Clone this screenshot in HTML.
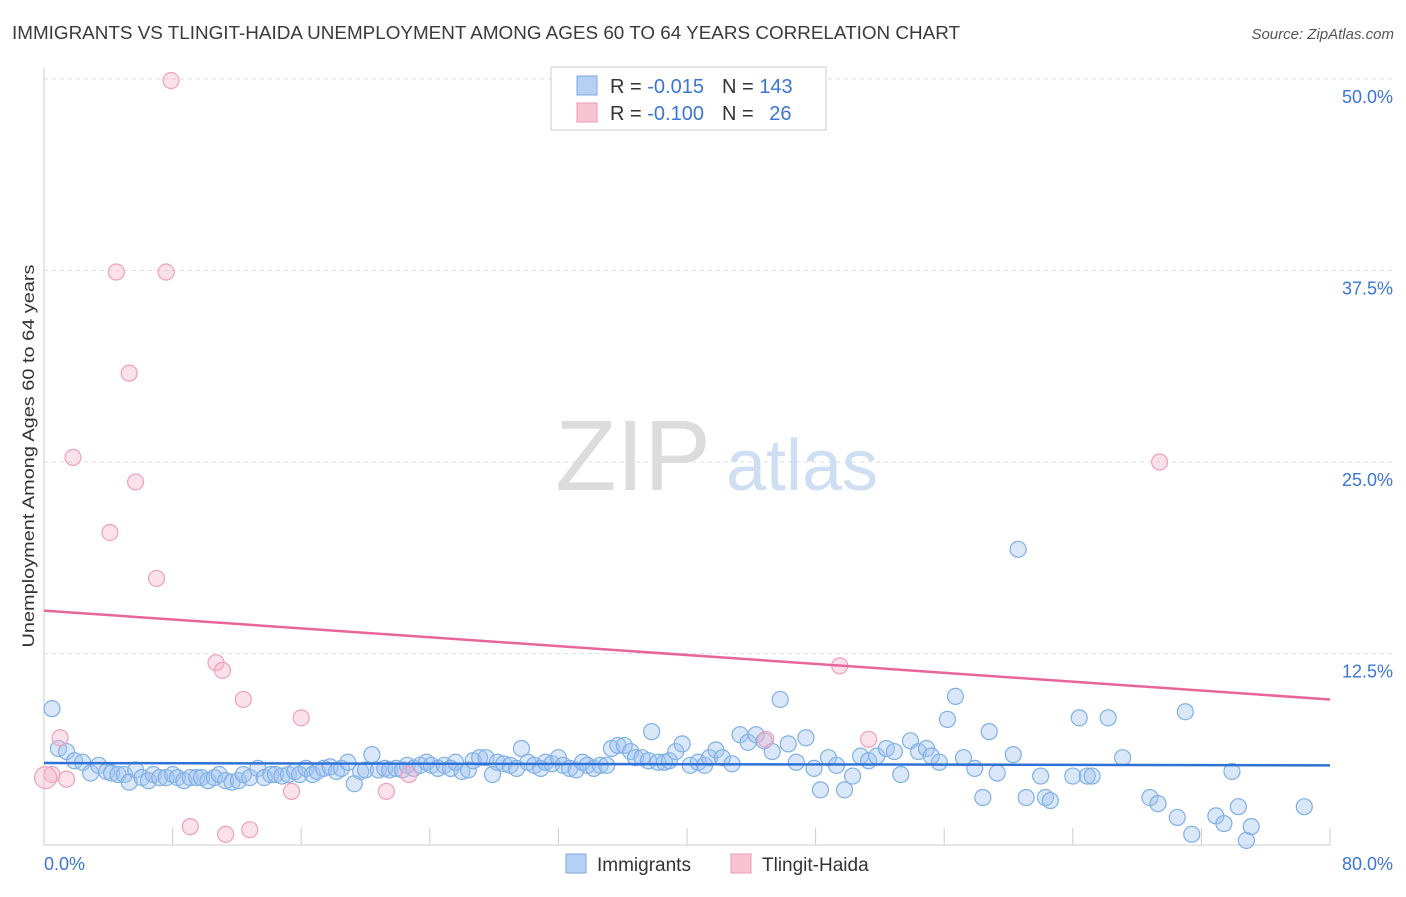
<!DOCTYPE html>
<html><head><meta charset="utf-8"><style>
body{margin:0;background:#fff;font-family:"Liberation Sans",sans-serif;}
svg text{font-family:"Liberation Sans",sans-serif;}
</style></head><body>
<svg id="chart" width="1406" height="892" viewBox="0 0 1406 892" xmlns="http://www.w3.org/2000/svg">
<text x="12" y="39" font-size="18" fill="#3a3a3a" textLength="948" lengthAdjust="spacingAndGlyphs">IMMIGRANTS VS TLINGIT-HAIDA UNEMPLOYMENT AMONG AGES 60 TO 64 YEARS CORRELATION CHART</text>
<text x="1394" y="39" font-size="15" fill="#555" text-anchor="end" font-style="italic">Source: ZipAtlas.com</text>
<g id="grid"></g>
<g>
<text x="633" y="490" font-size="100" fill="#dcdcdc" text-anchor="middle" font-family="Liberation Serif, serif">ZIP</text>
<text x="802" y="490" font-size="72" fill="#cfdff3" text-anchor="middle">atlas</text>
</g>
<g id="axes"></g>
<g id="pts"></g>
<g id="trend"></g>
<text transform="translate(34,456) rotate(-90)" font-size="17" fill="#333" text-anchor="middle" textLength="383" lengthAdjust="spacingAndGlyphs">Unemployment Among Ages 60 to 64 years</text>
<g>
<rect x="551" y="67" width="275" height="63" fill="#fff" stroke="#ccc"/>
<rect x="577" y="76" width="20" height="19" fill="#b4d0f4" stroke="#7aa8e0"/>
<rect x="577" y="103" width="20" height="19" fill="#f8c4d4" stroke="#e89ab4"/>
<text x="610" y="93" font-size="20" fill="#333">R = <tspan fill="#3b76d4">-0.015</tspan><tspan dx="18">N = </tspan><tspan fill="#3b76d4">143</tspan></text>
<text x="610" y="120" font-size="20" fill="#333">R = <tspan fill="#3b76d4">-0.100</tspan><tspan dx="18">N = </tspan><tspan fill="#3b76d4" dx="10">26</tspan></text>
</g>
<g>
<rect x="566" y="854" width="20" height="19" fill="#b4d0f4" stroke="#7aa8e0"/>
<text x="597" y="871" font-size="19" fill="#333">Immigrants</text>
<rect x="731" y="854" width="20" height="19" fill="#f8c4d4" stroke="#e89ab4"/>
<text x="762" y="871" font-size="19" fill="#333">Tlingit-Haida</text>
</g>
</svg>
<script>
const xTicks=[0,8,16,24,32,40,48,56,64,72,80];
const yTicks=[12.5,25,37.5,50];
const yTickLabels=["12.5%","25.0%","37.5%","50.0%"];
const blueX=[0.5,0.9,1.4,1.9,2.4,2.9,3.4,3.9,4.2,4.6,5.0,5.3,5.7,6.1,6.5,6.8,7.2,7.6,8.0,8.3,8.7,9.1,9.5,9.8,10.2,10.6,10.9,11.3,11.7,12.1,12.4,12.8,13.3,13.7,14.1,14.4,14.8,15.2,15.6,15.9,16.3,16.7,17.0,17.4,17.8,18.2,18.5,18.9,19.3,19.7,20.0,20.4,20.8,21.2,21.5,21.9,22.3,22.6,23.0,23.4,23.8,24.1,24.5,24.9,25.3,25.6,26.0,26.4,26.7,27.1,27.5,27.9,28.2,28.6,29.0,29.4,29.7,30.1,30.5,30.9,31.2,31.6,32.0,32.3,32.7,33.1,33.5,33.8,34.2,34.6,35.0,35.3,35.7,36.1,36.5,36.8,37.2,37.6,37.8,38.2,38.6,38.9,39.3,39.7,40.2,40.7,41.1,41.4,41.8,42.2,42.8,43.3,43.8,44.3,44.8,45.3,45.8,46.3,46.8,47.4,47.9,48.3,48.8,49.3,49.8,50.3,50.8,51.3,51.8,52.4,52.9,53.3,53.9,54.4,54.9,55.2,55.7,56.2,56.7,57.2,57.9,58.4,58.8,59.3,60.3,60.6,61.1,62.0,62.3,62.6,64.0,64.4,64.9,65.2,66.2,67.1,68.8,69.3,70.5,71.0,71.4,72.9,73.4,73.9,74.3,74.8,75.1,78.4];
const blueY=[8.9,6.3,6.1,5.5,5.4,4.7,5.2,4.8,4.7,4.6,4.6,4.1,4.9,4.4,4.2,4.6,4.4,4.4,4.6,4.4,4.2,4.4,4.4,4.4,4.2,4.4,4.6,4.2,4.1,4.2,4.6,4.4,5.0,4.4,4.6,4.6,4.5,4.6,4.8,4.6,5.0,4.6,4.8,5.0,5.1,4.8,5.0,5.4,4.0,4.8,4.9,5.9,4.9,5.0,4.9,5.0,4.9,5.2,5.0,5.2,5.4,5.2,5.0,5.2,5.0,5.4,4.8,4.9,5.5,5.7,5.7,4.6,5.4,5.3,5.2,5.0,6.3,5.4,5.2,5.0,5.4,5.3,5.7,5.2,5.0,4.9,5.4,5.2,5.0,5.2,5.2,6.3,6.5,6.5,6.1,5.7,5.7,5.5,7.4,5.4,5.4,5.5,6.1,6.6,5.2,5.4,5.2,5.7,6.2,5.7,5.3,7.2,6.7,7.2,6.8,6.1,9.5,6.6,5.4,7.0,5.0,3.6,5.7,5.2,3.6,4.5,5.8,5.5,5.8,6.3,6.1,4.6,6.8,6.1,6.3,5.8,5.4,8.2,9.7,5.7,5.0,3.1,7.4,4.7,5.9,19.3,3.1,4.5,3.1,2.9,4.5,8.3,4.5,4.5,8.3,5.7,3.1,2.7,1.8,8.7,0.7,1.9,1.4,4.8,2.5,0.3,1.2,2.5];
const pinkX=[7.9,4.5,7.6,5.3,1.8,5.7,4.1,7.0,10.7,11.1,12.4,16.0,1.0,0.5,1.4,0.1,15.4,21.3,22.7,9.1,11.3,12.8,44.9,49.5,51.3,69.4];
const pinkY=[49.9,37.4,37.4,30.8,25.3,23.7,20.4,17.4,11.9,11.4,9.5,8.3,7.0,4.6,4.3,4.4,3.5,3.5,4.6,1.2,0.7,1.0,6.9,11.7,6.9,25.0];
const blueTrend=[5.35,5.2];
const pinkTrend=[15.3,9.5];
const NS="http://www.w3.org/2000/svg";
const X0=44,X1=1330,Y0=845,Y50=79;
const sx=v=>X0+(v/80)*(X1-X0);
const sy=v=>Y0-(v/50)*(Y0-Y50);
function mk(tag,attrs,parent){const e=document.createElementNS(NS,tag);for(const k in attrs)e.setAttribute(k,attrs[k]);parent.appendChild(e);return e;}
const grid=document.getElementById('grid'),axes=document.getElementById('axes'),pts=document.getElementById('pts'),trend=document.getElementById('trend');
yTicks.forEach((t,i)=>{
 const l=mk('line',{x1:X0,x2:1394,y1:sy(t),y2:sy(t),stroke:'#ddd','stroke-dasharray':'4,4'},grid);
 
 
 const tx=mk('text',{x:1393,y:sy(t)+24,'font-size':18,fill:'#3b76d4','text-anchor':'end'},axes);
 tx.textContent=yTickLabels[i];
 
 
});
const ax=mk('line',{x1:X0,x2:X0,y1:68,y2:Y0,stroke:'#ccc'},axes);


const bx=mk('line',{x1:X0,x2:X1,y1:Y0,y2:Y0,stroke:'#ccc'},axes);


xTicks.forEach(t=>{
 const l=mk('line',{x1:sx(t),x2:sx(t),y1:828,y2:Y0,stroke:'#ccc'},axes);
 
 
});
const xl0=mk('text',{x:44,y:870,'font-size':18,fill:'#3b76d4'},axes);xl0.textContent='0.0%';


const xl1=mk('text',{x:1393,y:870,'font-size':18,fill:'#3b76d4','text-anchor':'end'},axes);xl1.textContent='80.0%';


blueX.forEach((x,i)=>{
 const c=mk('circle',{cx:sx(x),cy:sy(blueY[i]),r:8,fill:'rgba(160,196,240,0.4)',stroke:'#7fb0e8','stroke-width':1.2},pts);
 
 
});
pinkX.forEach((x,i)=>{
 const c=mk('circle',{cx:sx(x),cy:sy(pinkY[i]),r:(i==15?11:8),fill:'rgba(246,180,200,0.4)',stroke:'#f0a0bc','stroke-width':1.2},pts);
 
 
});
const bt=mk('line',{x1:sx(0),x2:sx(80),y1:sy(blueTrend[0]),y2:sy(blueTrend[1]),stroke:'#2f72d6','stroke-width':2.5},trend);


const pt=mk('line',{x1:sx(0),x2:sx(80),y1:sy(pinkTrend[0]),y2:sy(pinkTrend[1]),stroke:'#e8659a','stroke-width':2.5},trend);


</script>
</body></html>
